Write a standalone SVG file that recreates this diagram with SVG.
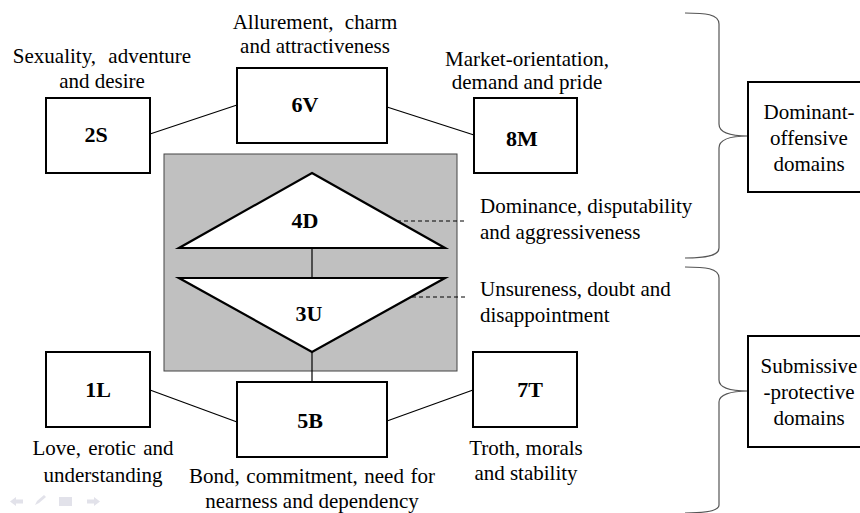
<svg xmlns="http://www.w3.org/2000/svg" width="860" height="513" viewBox="0 0 860 513" font-family="Liberation Serif, Times New Roman, serif">
<style>
.box{fill:#fff;stroke:#000;stroke-width:2}
.tri{fill:#fff;stroke:#000;stroke-width:2.2;stroke-linejoin:miter}
.lbl{font-family:'Liberation Serif','Times New Roman',serif;font-size:22px;font-weight:700;fill:#000;text-anchor:middle}
.cap{font-family:'Liberation Serif','Times New Roman',serif;font-size:21px;font-weight:400;fill:#000}
.ctr{text-anchor:middle}
.con{stroke:#000;stroke-width:1.2;fill:none}
.dash{stroke:#000;stroke-width:1;stroke-dasharray:4,3;fill:none}
.brace{stroke:#555;stroke-width:1.2;fill:none}
.icon{fill:#e2e2ea;stroke:none}
</style>
<rect width="860" height="513" fill="#fff"/>
<g id="core">
<rect x="164" y="154" width="293" height="217" fill="#c0c0c0" stroke="#444" stroke-width="1"/>
</g>
<g id="connectors">
<line class="con" x1="150" y1="134" x2="237" y2="105"/>
<line class="con" x1="387" y1="107" x2="474" y2="135"/>
<line class="con" x1="312" y1="248" x2="312" y2="278"/>
<line class="con" x1="312" y1="352" x2="312" y2="382"/>
<line class="con" x1="150" y1="390" x2="237" y2="422"/>
<line class="con" x1="387" y1="421" x2="473" y2="390"/>
<line class="dash" x1="383" y1="221" x2="465" y2="221"/>
<line class="dash" x1="391" y1="297" x2="465" y2="297"/>
<path class="brace" d="M685,13 C705,13 719,14 719,24 L719,124 C719,132 730,136 748,136 C730,136 719,140 719,148 L719,248 C719,256 705,258 685,258"/>
<path class="brace" d="M685,267 C705,267 719,268 719,278 L719,380 C719,388 730,391 748,391 C730,391 719,395 719,402 L719,505 C719,511 705,513 685,513"/>
</g>
<g id="node-2S">
<rect class="box" x="46" y="98" width="104" height="75"/>
<text class="lbl" x="96" y="142">2S</text>
<text class="cap ctr" x="102" y="63" word-spacing="7">Sexuality, adventure</text>
<text class="cap ctr" x="102" y="88">and desire</text>
</g>
<g id="node-6V">
<rect class="box" x="237" y="68" width="150" height="75"/>
<text class="lbl" x="305" y="112">6V</text>
<text class="cap ctr" x="315" y="29" word-spacing="6">Allurement, charm</text>
<text class="cap ctr" x="315" y="53">and attractiveness</text>
</g>
<g id="node-8M">
<rect class="box" x="474" y="98" width="103" height="75"/>
<text class="lbl" x="522" y="146">8M</text>
<text class="cap ctr" x="527" y="66">Market-orientation,</text>
<text class="cap ctr" x="527" y="89">demand and pride</text>
</g>
<g id="node-4D">
<polygon class="tri" points="312,173 445,248 179,248"/>
<text class="lbl" x="305" y="228">4D</text>
<text class="cap" x="480" y="213">Dominance, disputability</text>
<text class="cap" x="480" y="239">and aggressiveness</text>
</g>
<g id="node-3U">
<polygon class="tri" points="179,278 445,278 312,352"/>
<text class="lbl" x="309" y="321">3U</text>
<text class="cap" x="480" y="296">Unsureness, doubt and</text>
<text class="cap" x="480" y="322">disappointment</text>
</g>
<g id="node-1L">
<rect class="box" x="46" y="352" width="104" height="75"/>
<text class="lbl" x="98" y="397">1L</text>
<text class="cap ctr" x="103" y="455" word-spacing="2">Love, erotic and</text>
<text class="cap ctr" x="103" y="482">understanding</text>
</g>
<g id="node-5B">
<rect class="box" x="237" y="382" width="150" height="75"/>
<text class="lbl" x="310" y="428">5B</text>
<text class="cap ctr" x="312" y="483" word-spacing="1.3">Bond, commitment, need for</text>
<text class="cap ctr" x="312" y="508">nearness and dependency</text>
</g>
<g id="node-7T">
<rect class="box" x="473" y="352" width="104" height="75"/>
<text class="lbl" x="530" y="397">7T</text>
<text class="cap ctr" x="526" y="455">Troth, morals</text>
<text class="cap ctr" x="526" y="480">and stability</text>
</g>
<g id="node-dominant">
<rect class="box" x="748" y="82" width="114" height="110"/>
<text class="cap ctr" x="809" y="119">Dominant-</text>
<text class="cap ctr" x="809" y="145">offensive</text>
<text class="cap ctr" x="809" y="171">domains</text>
</g>
<g id="node-submissive">
<rect class="box" x="748" y="336" width="114" height="111"/>
<text class="cap ctr" x="809" y="373">Submissive</text>
<text class="cap ctr" x="809" y="399">-protective</text>
<text class="cap ctr" x="809" y="425">domains</text>
</g>
<g id="nav-icons">
<polygon class="icon" points="10,501.5 16,497 16,499.5 23,499.5 23,503.5 16,503.5 16,506"/>
<polygon class="icon" points="35,505 37,501 44,495 46,497 39,503"/>
<rect class="icon" x="59" y="497" width="13" height="9"/>
<polygon class="icon" points="100,501.5 94,497 94,499.5 87,499.5 87,503.5 94,503.5 94,506"/>
</g>
</svg>
